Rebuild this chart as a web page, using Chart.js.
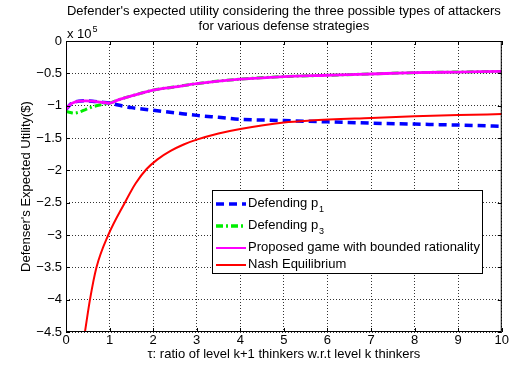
<!DOCTYPE html>
<html>
<head>
<meta charset="utf-8">
<script src="https://cdn.jsdelivr.net/npm/chart.js@4"></script>
<style>
  html, body { margin: 0; padding: 0; background: #fff; }
  #wrap { width: 510px; height: 365px; }
</style>
</head>
<body>
<div id="wrap"><canvas id="utilChart" width="510" height="365"></canvas></div>
<script>
// values in units of 1e5 $
const tauMain = [0, 0.1, 0.18, 0.3, 0.45, 0.6, 0.8, 1.0, 1.2, 1.5, 2.0, 2.5, 3.0, 3.5, 4.0, 5.0, 6.0, 7.0, 8.0, 9.0, 10];
const p1Vals = [-1.06, -0.98, -0.95, -0.93, -0.925, -0.93, -0.945, -0.96, -0.99, -1.03, -1.07, -1.11, -1.15, -1.18, -1.21, -1.23, -1.25, -1.27, -1.285, -1.30, -1.32];
const p3Vals = [-1.09, -1.105, -1.115, -1.1, -1.06, -1.02, -0.985, -0.96, -0.91, -0.85, -0.76, -0.71, -0.66, -0.62, -0.59, -0.55, -0.53, -0.51, -0.49, -0.48, -0.47];
const proposedVals = [-1.06, -0.98, -0.95, -0.93, -0.925, -0.93, -0.945, -0.96, -0.91, -0.85, -0.76, -0.71, -0.66, -0.62, -0.59, -0.55, -0.53, -0.51, -0.49, -0.48, -0.47];
const tauNash = [0.435, 0.55, 0.7, 0.97, 1.35, 1.6, 1.85, 2.1, 2.4, 2.7, 3.0, 3.5, 4.0, 5.0, 5.6, 7.0, 8.0, 9.0, 10];
const nashVals = [-4.5, -4.0, -3.5, -3.0, -2.5, -2.2, -1.98, -1.83, -1.7, -1.6, -1.525, -1.43, -1.36, -1.26, -1.23, -1.19, -1.165, -1.145, -1.13];

const xTicks = [0, 1, 2, 3, 4, 5, 6, 7, 8, 9, 10];
const yTicks = [0, -0.5, -1, -1.5, -2, -2.5, -3, -3.5, -4, -4.5];

const FONT = "'Liberation Sans', Arial, sans-serif";

const toPts = (xs, ys) => xs.map((x, i) => ({ x: x, y: ys[i] }));

const fmtY = (v) => (v === 0 ? "0" : "\u2212" + String(Math.abs(v)));

// legend entries: [main text, subscript, color, dash, width]
const legendItems = [
  ["Defending p", "1", "#0000ff", [8, 5], 3.5],
  ["Defending p", "3", "#00ee00", [7, 3, 2, 3], 3.5],
  ["Proposed game with bounded rationality", "", "#ff00ff", [], 2],
  ["Nash Equilibrium", "", "#ff0000", [], 2],
];

const frame = {
  id: "frame",
  afterDatasetsDraw(chart) {
    const { ctx, chartArea: a, scales } = chart;
    ctx.save();
    ctx.strokeStyle = "#000";
    ctx.lineWidth = 1;
    ctx.setLineDash([]);
    ctx.strokeRect(a.left + 0.5, a.top + 0.5, a.right - a.left - 1, a.bottom - a.top - 1);
    // inward ticks on all sides
    ctx.beginPath();
    xTicks.forEach((t) => {
      const px = Math.round(scales.x.getPixelForValue(t)) + 0.5;
      ctx.moveTo(px, a.bottom); ctx.lineTo(px, a.bottom - 4);
      ctx.moveTo(px, a.top); ctx.lineTo(px, a.top + 4);
    });
    yTicks.forEach((t) => {
      const py = Math.round(scales.y.getPixelForValue(t)) + 0.5;
      ctx.moveTo(a.left, py); ctx.lineTo(a.left + 4, py);
      ctx.moveTo(a.right, py); ctx.lineTo(a.right - 4, py);
    });
    ctx.stroke();

    // exponent label
    ctx.fillStyle = "#000";
    ctx.textBaseline = "alphabetic";
    ctx.font = "13px " + FONT;
    ctx.fillText("x 10", a.left + 1, a.top - 3);
    const w = ctx.measureText("x 10").width;
    ctx.font = "9px " + FONT;
    ctx.fillText("5", a.left + 1 + w + 1, a.top - 9);

    // legend box
    const lx = 212, ly = 190, lw = 270, lh = 83;
    ctx.fillStyle = "#fff";
    ctx.fillRect(lx, ly, lw, lh);
    ctx.strokeRect(lx + 0.5, ly + 0.5, lw, lh);
    const rows = [203, 225, 247, 264];
    legendItems.forEach((it, i) => {
      const y = rows[i];
      ctx.strokeStyle = it[2];
      ctx.lineWidth = it[4];
      ctx.setLineDash(it[3]);
      ctx.beginPath();
      ctx.moveTo(216, y + 1); ctx.lineTo(246, y + 1);
      ctx.stroke();
      ctx.setLineDash([]);
      ctx.fillStyle = "#000";
      ctx.font = "13px " + FONT;
      ctx.textBaseline = "middle";
      ctx.fillText(it[0], 248, y);
      if (it[1]) {
        const tw = ctx.measureText(it[0]).width;
        ctx.font = "9px " + FONT;
        ctx.fillText(it[1], 248 + tw + 1, y + 7);
      }
    });
    ctx.restore();
  },
};

// lower order is painted last (on top)
const ctx = document.getElementById("utilChart").getContext("2d");
new Chart(ctx, {
  type: "line",
  data: {
    datasets: [
      { label: "Defending p1", data: toPts(tauMain, p1Vals), borderColor: "#0000ff", borderWidth: 3.5, borderDash: [8, 5], order: 3 },
      { label: "Defending p3", data: toPts(tauMain, p3Vals), borderColor: "#00ee00", borderWidth: 3, borderDash: [7, 3, 2, 3], order: 2 },
      { label: "Proposed game with bounded rationality", data: toPts(tauMain, proposedVals), borderColor: "#ff00ff", borderWidth: 2.8, order: 1 },
      { label: "Nash Equilibrium", data: toPts(tauNash, nashVals), borderColor: "#ff0000", borderWidth: 2, order: 0 },
    ],
  },
  options: {
    responsive: false,
    animation: false,
    layout: { padding: { left: 0, right: 7, top: 0, bottom: 0 } },
    elements: {
      point: { radius: 0 },
      line: { cubicInterpolationMode: "monotone", fill: false },
    },
    plugins: {
      legend: { display: false },
      tooltip: { enabled: false },
      title: {
        display: true,
        fullSize: false,
        text: [
          "Defender's expected utility considering the three possible types of attackers",
          "for various defense strategies",
        ],
        color: "#000",
        font: { family: FONT, size: 13, weight: "normal", lineHeight: 15 / 13 },
        padding: { top: 4, bottom: 7 },
      },
    },
    scales: {
      x: {
        type: "linear",
        min: 0,
        max: 10,
        afterFit: (s) => { s.height = 33; },
        ticks: { stepSize: 1, color: "#000", padding: 1, font: { family: FONT, size: 13 } },
        grid: { color: "#333", drawTicks: false },
        border: { display: false, dash: [1, 2] },
        title: {
          display: true,
          text: "\u03c4: ratio of level k+1 thinkers w.r.t level k thinkers",
          color: "#000",
          font: { family: FONT, size: 13 },
          padding: { top: 0, bottom: 3 },
        },
      },
      y: {
        type: "linear",
        min: -4.5,
        max: 0,
        afterFit: (s) => { s.width = 66; },
        ticks: { stepSize: 0.5, color: "#000", padding: 4, font: { family: FONT, size: 13 }, callback: fmtY },
        grid: { color: "#333", drawTicks: false },
        border: { display: false, dash: [1, 2] },
        title: {
          display: true,
          text: "Defenser's Expected Utility($)",
          color: "#000",
          font: { family: FONT, size: 13 },
          padding: { top: 19, bottom: 0 },
        },
      },
    },
  },
  plugins: [frame],
});
</script>
</body>
</html>
